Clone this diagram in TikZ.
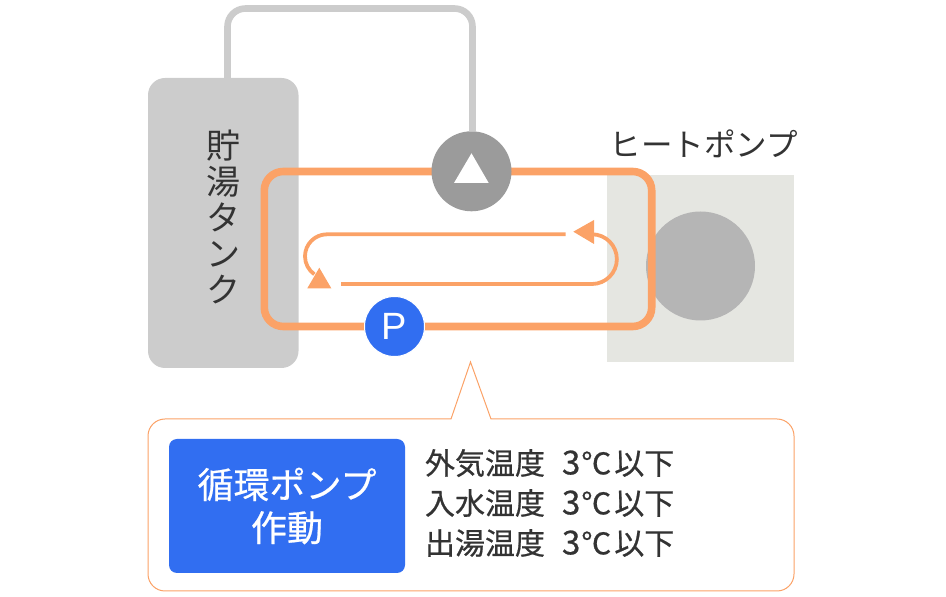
\documentclass[tikz,border=0pt]{standalone}
\usepackage{fontspec}
\usepackage{xcolor}
\usetikzlibrary{positioning}
\setmainfont{Noto Sans CJK JP}
\newfontfamily\latinfont{Liberation Sans}
\newfontfamily\mediumfont[FakeBold=0.6]{Noto Sans CJK JP}
\definecolor{loopcolor}{RGB}{251,162,103}
\definecolor{pumpblue}{RGB}{49,110,241}
\definecolor{tankgray}{RGB}{204,204,204}
\definecolor{pumpgray}{RGB}{155,155,155}
\definecolor{heatgray}{RGB}{229,230,225}
\definecolor{fangray}{RGB}{181,181,181}
\definecolor{textgray}{RGB}{51,51,51}
\newcommand{\limitvalue}{\hspace{17pt}{\fontsize{33}{40}\selectfont 3}\hspace{1pt}℃\hspace{3pt}以下}

\begin{document}
\begin{tikzpicture}[x=1pt, y=1pt,
    tank/.style={rectangle, fill=tankgray, rounded corners=17pt, minimum width=150.5pt, minimum height=290pt, inner sep=0pt, outer sep=0pt},
    heatbox/.style={rectangle, fill=heatgray, minimum size=186.7pt, inner sep=0pt, outer sep=0pt},
    fan/.style={circle, fill=fangray, minimum size=109pt, inner sep=0pt, outer sep=0pt},
    loopbox/.style={rectangle, draw=loopcolor, line width=7.6pt, rounded corners=19pt, minimum width=387.4pt, minimum height=155pt, inner sep=0pt, outer sep=0pt},
    bigpump/.style={circle, fill=pumpgray, minimum size=80pt, inner sep=0pt, outer sep=0pt},
    smallpump/.style={circle, fill=pumpblue, draw=white, line width=1pt, minimum size=60pt, inner sep=0pt, outer sep=0pt, text=white, font=\latinfont\fontsize{38}{38}\selectfont},
    pipe/.style={draw=tankgray, line width=6.6pt, rounded corners=18pt},
    flow/.style={draw=loopcolor, line width=3.8pt},
    actionbox/.style={rectangle, fill=pumpblue, rounded corners=8pt, minimum width=236pt, minimum height=134pt, inner sep=0pt, outer sep=0pt, align=center, text=white, font=\mediumfont\fontsize{36}{43}\selectfont},
    label/.style={inner sep=0pt, outer sep=0pt, text=textgray, align=center}]

\useasboundingbox (0,0) rectangle (946,597);

\node[tank] (storage) at (223.25,374) {};
\node[label, font=\fontsize{34}{36}\selectfont] (storagelabel) at (223.5,380.5) {貯\\湯\\タ\\ン\\ク};

\node[heatbox] (heatpump) at (700.65,328.65) {};
\node[fan] (heatfan) at (700.5,331) {};
\node[label, font=\fontsize{31.5}{32}\selectfont, above=17pt of heatpump, xshift=3pt] (heatlabel) {ヒートポンプ};

% the pumps sit on the loop
\node[loopbox] (circuit) at (458,348) {};
\node[bigpump] (hotpump) at (471.5,425.7) {};
\node[smallpump] (circpump) at (394.5,270.5) {P};
\fill[white] (454,414) -- (471.5,443.7) -- (488.7,414) -- cycle;

\coordinate (pipestart) at (227.5,519);
\coordinate (pipetop) at (472.5,588.5);
\draw[pipe] (pipestart) |- (pipetop) -- (pipetop |- hotpump.north);

% inner flow
\coordinate (lowstart) at (341,313);
\coordinate (topstart) at (565.7,362.7);
\draw[flow] (lowstart) -- (592,313) arc[start angle=-90, end angle=90, radius=24.85];
\draw[flow] (topstart) -- (327,362.7) arc[start angle=90, end angle=235, radius=22];
\fill[loopcolor] (573.3,365.3) -- (594,377) -- (594,353) -- cycle;
\fill[loopcolor] (307.3,308.7) -- (319.3,329.3) -- (331.3,308.7) -- cycle;

% callout
\draw[draw=loopcolor, line width=1pt, fill=white] (470.5,235) -- (491,178) -- (777,178) arc[start angle=90, end angle=0, radius=17] -- (794,23) arc[start angle=0, end angle=-90, radius=17] -- (165,6) arc[start angle=270, end angle=180, radius=17] -- (148,161) arc[start angle=180, end angle=90, radius=17] -- (451,178) -- cycle;
\node[actionbox] (action) at (287,91) {循環ポンプ\\作動};
\node[label, align=left, right=20pt of action, yshift=3pt, font=\mediumfont\fontsize{30}{40}\selectfont] (conditions) {外気温度\limitvalue\\入水温度\limitvalue\\出湯温度\limitvalue};
\end{tikzpicture}
\end{document}
